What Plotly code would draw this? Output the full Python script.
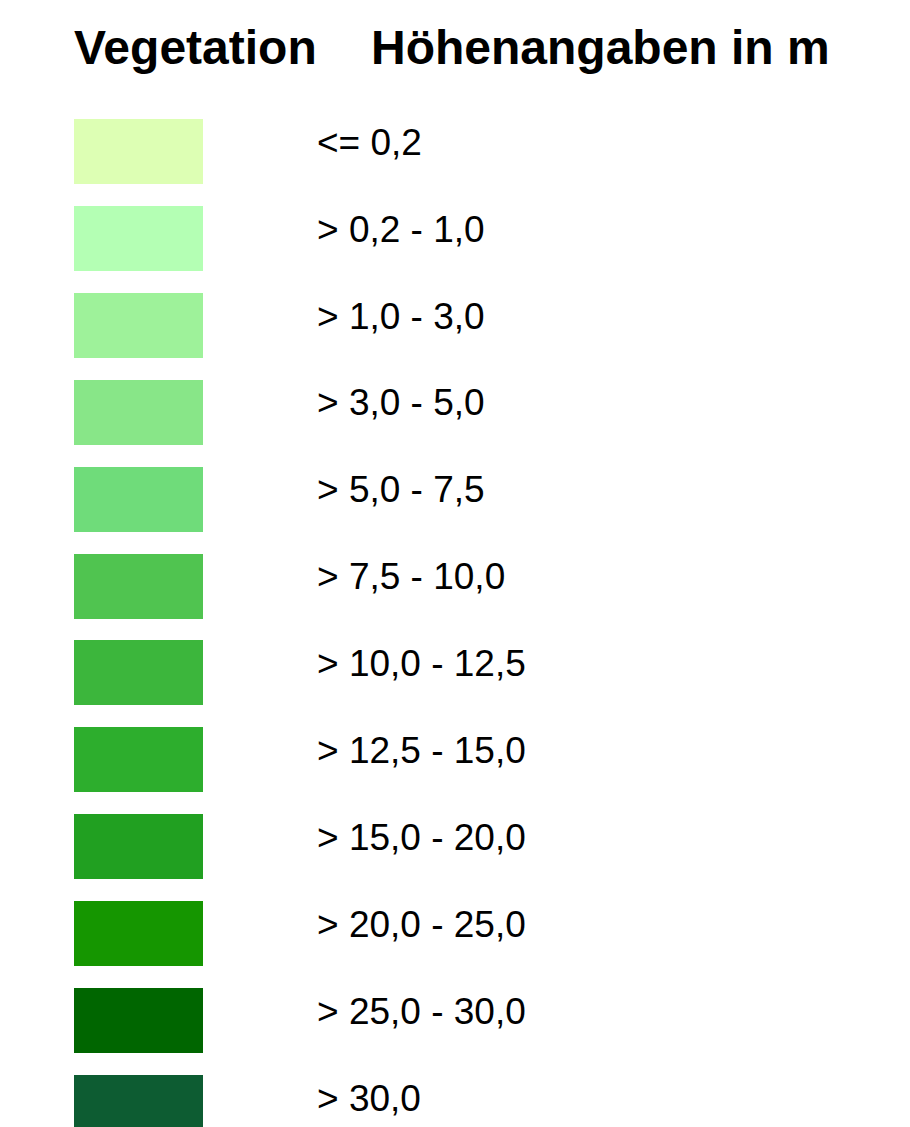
import plotly.graph_objects as go

categories = ["<= 0,2", "> 0,2 - 1,0", "> 1,0 - 3,0", "> 3,0 - 5,0", "> 5,0 - 7,5",
              "> 7,5 - 10,0", "> 10,0 - 12,5", "> 12,5 - 15,0", "> 15,0 - 20,0",
              "> 20,0 - 25,0", "> 25,0 - 30,0", "> 30,0"]
colors = ["#DDFFB4", "#B4FFB4", "#9EF29A", "#88E688", "#6FDC7A", "#50C450",
          "#3CB63C", "#2DAE2D", "#21A021", "#159600", "#006600", "#0D5C32"]
title_left = "Vegetation"
title_right = "Höhenangaben in m"

top0 = 119.0
step = 86.9
rect_h = 65.0
rect_x0, rect_x1 = 74.0, 203.0

tops = [top0 + i * step for i in range(len(categories))]
centers = [t + rect_h / 2 for t in tops]

fig = go.Figure()
fig.add_trace(go.Bar(
    x=[(rect_x0 + rect_x1) / 2] * len(categories),
    y=[rect_h] * len(categories),
    base=tops,
    width=rect_x1 - rect_x0,
    marker=dict(color=colors, line=dict(width=0)),
    hoverinfo="skip",
    showlegend=False,
))
fig.add_trace(go.Scatter(
    x=[317] * len(categories),
    y=[c - 6 for c in centers],
    mode="text",
    text=categories,
    textposition="middle right",
    textfont=dict(family="Arial, Liberation Sans, sans-serif", size=37, color="#000000"),
    hoverinfo="skip",
    showlegend=False,
))

font_title = dict(family="Arial, Liberation Sans, sans-serif", size=48, color="#000000")
fig.add_annotation(x=72, y=47, xref="x", yref="y", text="<b>%s</b>" % title_left,
                   showarrow=False, xanchor="left", yanchor="middle", font=font_title)
fig.add_annotation(x=369, y=47, xref="x", yref="y", text="<b>%s</b>" % title_right,
                   showarrow=False, xanchor="left", yanchor="middle", font=font_title)

# page body has an 8px default margin; offset the axis ranges so data coords equal screen pixels
off = 8
fig.update_layout(
    width=910, height=1127,
    margin=dict(l=0, r=0, t=0, b=0),
    paper_bgcolor="white", plot_bgcolor="white",
    xaxis=dict(range=[off, 910 + off], visible=False, fixedrange=True),
    yaxis=dict(range=[1127 + off, off], visible=False, fixedrange=True),
    bargap=0,
)
fig.write_html("out.html")
